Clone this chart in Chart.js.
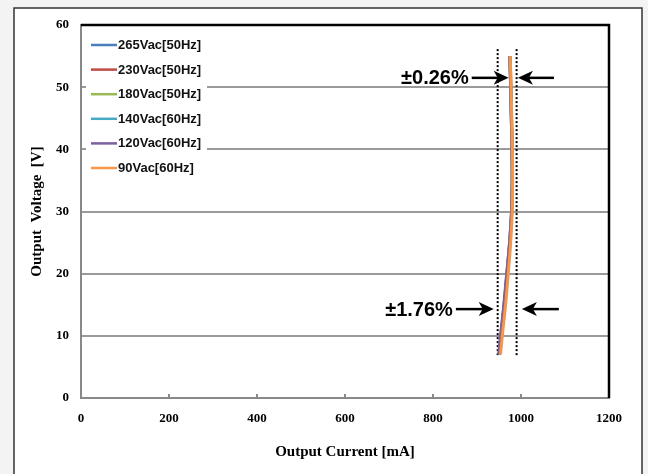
<!DOCTYPE html>
<html>
<head>
<meta charset="utf-8">
<script src="https://cdn.jsdelivr.net/npm/chart.js@4"></script>
<style>
  html, body { margin: 0; padding: 0; background: #f3f3f3; }
  #wrap { position: relative; width: 648px; height: 474px; }
</style>
</head>
<body>
<div id="wrap"><canvas id="grafico" width="648" height="474"></canvas></div>
<script>
// Datos
const etiquetasSerie = ["265Vac[50Hz]", "230Vac[50Hz]", "180Vac[50Hz]", "140Vac[60Hz]", "120Vac[60Hz]", "90Vac[60Hz]"];
const coloresSerie = ["#4A7EBB", "#BE4B48", "#98B954", "#46AAC5", "#7D60A0", "#F79646"];

const voltaje = [7, 10, 15, 20, 25, 30, 35, 40, 45, 50, 55];
const corriente265 = [950, 954, 961.5, 968, 974, 978.5, 980, 979.5, 978, 976.5, 974.5];
const corriente230 = [951, 955, 962.5, 968.5, 974.5, 979, 980.5, 980, 978.5, 977, 975.5];
const corriente180 = [952, 956, 963, 969, 975, 979, 980.5, 980, 978.5, 977, 975];
const corriente140 = [950.5, 954.5, 962, 968, 974.5, 978.5, 980, 979.5, 978, 976.5, 974.5];
const corriente120 = [949.5, 953.5, 961, 967.5, 974, 978.5, 980, 979.5, 978, 976.5, 974.5];
const corriente90 = [953.5, 957.5, 965, 971, 976.5, 980, 981, 980.5, 979, 977.5, 975.5];
const corrientes = [corriente265, corriente230, corriente180, corriente140, corriente120, corriente90];

// Líneas punteadas (límites) y flechas
const limitesX = [947, 990];
const limitesV = [6.9, 56.4];
const flechaV = [51.5, 14.3];
const flechaIzqDesde = [888, 852];
const flechaIzqHasta = [972, 938];
const flechaDerDesde = [1075, 1086];
const flechaDerHasta = [993, 1002];
const textosFlecha = ["±0.26%", "±1.76%"];

const ticksX = [0, 200, 400, 600, 800, 1000, 1200];

const datasets = corrientes.map((serie, i) => ({
  label: etiquetasSerie[i],
  data: serie.map((x, k) => ({ x: x, y: voltaje[k] })),
  borderColor: coloresSerie[i],
  borderWidth: 3,
  showLine: true,
  pointRadius: 0,
  tension: 0.35,
  order: 6 - i
}));

limitesX.forEach(x => {
  datasets.push({
    label: "",
    data: limitesV.map(v => ({ x: x, y: v })),
    borderColor: "#000",
    borderWidth: 2,
    borderDash: [2, 2],
    showLine: true,
    pointRadius: 0,
    order: 20
  });
});

// Plugin: marco exterior, bordes negros, marcas del eje x, leyenda y flechas
const decoraciones = {
  id: "decoraciones",
  beforeDraw(chart) {
    const ctx = chart.ctx;
    ctx.save();
    ctx.fillStyle = "#f3f3f3";
    ctx.fillRect(0, 0, chart.width, chart.height);
    ctx.fillStyle = "#fff";
    ctx.fillRect(14, 8, 628, 470);
    ctx.strokeStyle = "#333";
    ctx.lineWidth = 1.5;
    ctx.beginPath();
    ctx.moveTo(14, 480); ctx.lineTo(14, 8); ctx.lineTo(642, 8); ctx.lineTo(642, 480);
    ctx.stroke();
    ctx.restore();
  },
  afterDraw(chart) {
    const ctx = chart.ctx;
    const a = chart.chartArea;
    const sx = chart.scales.x, sy = chart.scales.y;
    ctx.save();

    // bordes superior y derecho
    ctx.strokeStyle = "#000";
    ctx.lineWidth = 2.5;
    ctx.beginPath();
    ctx.moveTo(a.left, a.top); ctx.lineTo(a.right, a.top); ctx.lineTo(a.right, a.bottom);
    ctx.stroke();

    // marcas interiores del eje x
    ctx.strokeStyle = "#888";
    ctx.lineWidth = 2;
    ticksX.slice(1, -1).forEach(t => {
      const px = sx.getPixelForValue(t);
      ctx.beginPath(); ctx.moveTo(px, a.bottom); ctx.lineTo(px, a.bottom - 4); ctx.stroke();
    });

    // leyenda
    ctx.fillStyle = "#fff";
    ctx.fillRect(86, 30, 121, 150);
    ctx.font = "bold 13px 'Liberation Sans', Arial, sans-serif";
    ctx.textBaseline = "middle";
    ctx.textAlign = "left";
    etiquetasSerie.forEach((et, i) => {
      const y = 45 + i * 24.6;
      ctx.strokeStyle = coloresSerie[i];
      ctx.lineWidth = 2.5;
      ctx.beginPath(); ctx.moveTo(91, y); ctx.lineTo(117, y); ctx.stroke();
      ctx.fillStyle = "#111";
      ctx.fillText(et, 118, y + 0.5);
    });

    // flechas y textos
    ctx.fillStyle = "#000";
    ctx.strokeStyle = "#000";
    ctx.font = "bold 20px 'Liberation Sans', Arial, sans-serif";
    ctx.textAlign = "right";
    const flecha = (x0, x1, y) => {
      const dir = x1 > x0 ? 1 : -1;
      ctx.lineWidth = 2.5;
      ctx.beginPath(); ctx.moveTo(x0, y); ctx.lineTo(x1 - dir * 10, y); ctx.stroke();
      ctx.beginPath();
      ctx.moveTo(x1, y);
      ctx.lineTo(x1 - dir * 15, y - 7);
      ctx.lineTo(x1 - dir * 11, y);
      ctx.lineTo(x1 - dir * 15, y + 7);
      ctx.closePath();
      ctx.fill();
    };
    flechaV.forEach((v, i) => {
      const py = sy.getPixelForValue(v);
      const l0 = sx.getPixelForValue(flechaIzqDesde[i]);
      flecha(l0, sx.getPixelForValue(flechaIzqHasta[i]), py);
      flecha(sx.getPixelForValue(flechaDerDesde[i]), sx.getPixelForValue(flechaDerHasta[i]), py);
      ctx.fillText(textosFlecha[i], l0 - 3, py + 1);
    });
    ctx.restore();
  }
};

const fuenteEje = { family: "'Liberation Serif', 'Times New Roman', serif", weight: "bold", size: 13 };
const fuenteTitulo = { family: "'Liberation Serif', 'Times New Roman', serif", weight: "bold", size: 15 };

new Chart(document.getElementById("grafico"), {
  type: "scatter",
  data: { datasets: datasets },
  plugins: [decoraciones],
  options: {
    responsive: false,
    animation: false,
    layout: { padding: { top: 25, right: 39, left: 0, bottom: 0 } },
    plugins: { legend: { display: false }, tooltip: { enabled: false } },
    scales: {
      x: {
        type: "linear",
        min: 0,
        max: 1200,
        afterBuildTicks: scale => { scale.ticks = ticksX.map(v => ({ value: v })); },
        afterFit: scale => { scale.height = 76; },
        ticks: { color: "#000", font: fuenteEje, padding: 13, maxRotation: 0, callback: v => String(v) },
        grid: { display: false, drawTicks: false },
        border: { color: "#888", width: 2 },
        title: { display: true, text: "Output Current [mA]", color: "#000", font: fuenteTitulo, padding: { top: 0, bottom: 13 } }
      },
      y: {
        min: 0,
        max: 60,
        ticks: { stepSize: 10, color: "#000", font: fuenteEje, padding: 12, callback: v => String(v) },
        afterFit: scale => { scale.width = 81; },
        grid: { color: "#9a9a9a", lineWidth: 2, drawTicks: false },
        border: { color: "#888", width: 2 },
        title: { display: true, text: "Output  Voltage  [V]", color: "#000", font: fuenteTitulo, padding: { top: 28, bottom: 0 } }
      }
    }
  }
});
</script>
</body>
</html>
